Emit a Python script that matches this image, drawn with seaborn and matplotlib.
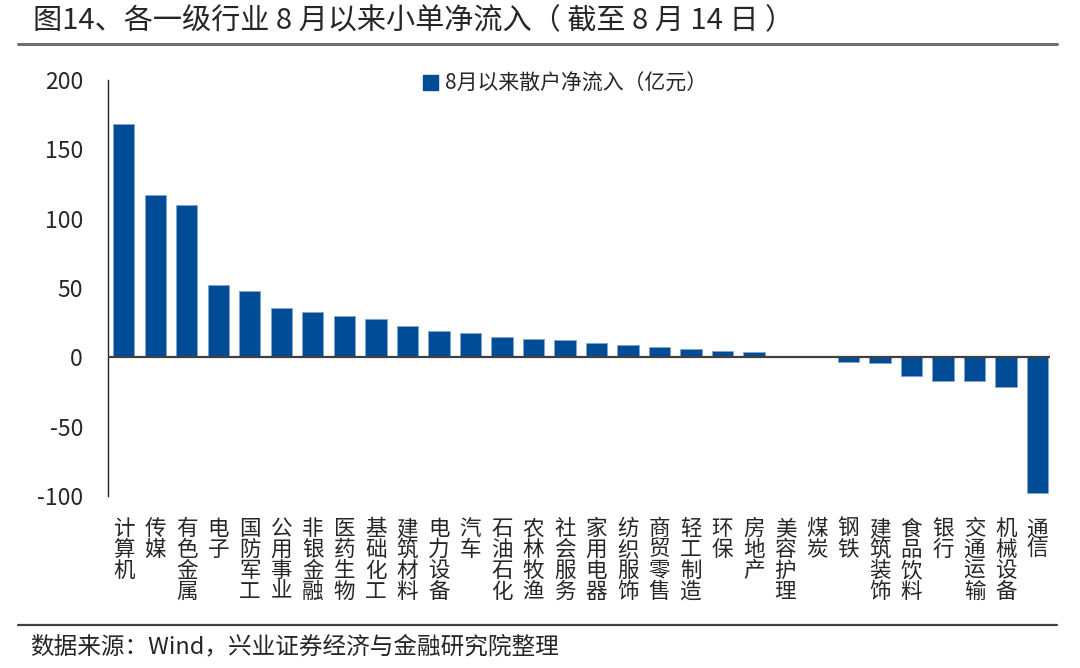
import matplotlib
matplotlib.use("Agg")
import matplotlib.pyplot as plt
import seaborn as sns
import pandas as pd
from matplotlib.patches import Patch
from matplotlib.lines import Line2D

# 数据（从图上读出的近似值，单位：亿元）
industries = ["计算机", "传媒", "有色金属", "电子", "国防军工", "公用事业", "非银金融",
              "医药生物", "基础化工", "建筑材料", "电力设备", "汽车", "石油石化", "农林牧渔",
              "社会服务", "家用电器", "纺织服饰", "商贸零售", "轻工制造", "环保", "房地产",
              "美容护理", "煤炭", "钢铁", "建筑装饰", "食品饮料", "银行", "交通运输",
              "机械设备", "通信"]
inflow = [168.5, 117.0, 110.0, 52.3, 47.7, 35.3, 32.9,
          29.5, 27.6, 22.3, 19.2, 17.8, 14.9, 13.4,
          12.2, 10.1, 8.6, 7.2, 5.8, 4.6, 3.8,
          1.2, 0.2, -3.1, -3.8, -13.2, -16.8, -17.3,
          -21.1, -97.8]
yticks = [-100, -50, 0, 50, 100, 150, 200]

title = "图14、各一级行业 8 月以来小单净流入（ 截至 8 月 14 日 ）"
legend_label = "8月以来散户净流入（亿元）"
source = "数据来源：Wind，兴业证券经济与金融研究院整理"

bar_color = "#004C97"

sns.set_style("white")
plt.rcParams["font.family"] = ["Noto Sans CJK SC", "DejaVu Sans"]
plt.rcParams["axes.unicode_minus"] = False

df = pd.DataFrame({"industry": industries, "inflow": inflow})

fig = plt.figure(figsize=(10.8, 6.68), dpi=100)
ax = fig.add_axes([108 / 1080, 1 - 496 / 668, (1050 - 108) / 1080, (496 - 80) / 668])

sns.barplot(data=df, x="industry", y="inflow", color=bar_color, width=0.68,
            saturation=1, edgecolor="#7fa6cf", linewidth=0.6, ax=ax)

ax.set_xlim(-0.5, 29.4)
ax.set_ylim(-100, 200)
ax.set_yticks(yticks)
ax.set_yticklabels([str(v) for v in yticks], fontsize=16.5)
ax.tick_params(axis="y", direction="in", length=6, width=1, color="#222222", pad=18)
ax.set_xticks(range(len(industries)))
ax.set_xticklabels(["\n".join(s) for s in industries], fontsize=15.5,
                   linespacing=0.93, va="top")
ax.tick_params(axis="x", length=0, pad=16)
ax.set_xlabel("")
ax.set_ylabel("")

for side in ["top", "right", "bottom"]:
    ax.spines[side].set_visible(False)
ax.spines["left"].set_color("#222222")
ax.spines["left"].set_linewidth(1)
ax.axhline(0, color="#404040", lw=1.6, zorder=3)

# 图例
handle = Patch(facecolor=bar_color, edgecolor=bar_color)
fig.legend([handle], [legend_label], loc="center left",
           bbox_to_anchor=(404 / 1080, 1 - 84 / 668), frameon=False,
           fontsize=15, handlelength=0.75, handleheight=0.75, handletextpad=0.3)

# 标题与来源
fig.text(33 / 1080, 1 - 21 / 668, title, fontsize=21,
         va="center", ha="left")
fig.add_artist(Line2D([18 / 1080, 1057 / 1080], [1 - 44 / 668, 1 - 44 / 668],
                      color="#707070", lw=2.2))
fig.add_artist(Line2D([18 / 1080, 1057 / 1080], [1 - 625 / 668, 1 - 625 / 668],
                      color="#404040", lw=1.6))
fig.text(30 / 1080, 1 - 647 / 668, source, fontsize=17, va="center", ha="left")

fig.savefig("out.png", dpi=100)
